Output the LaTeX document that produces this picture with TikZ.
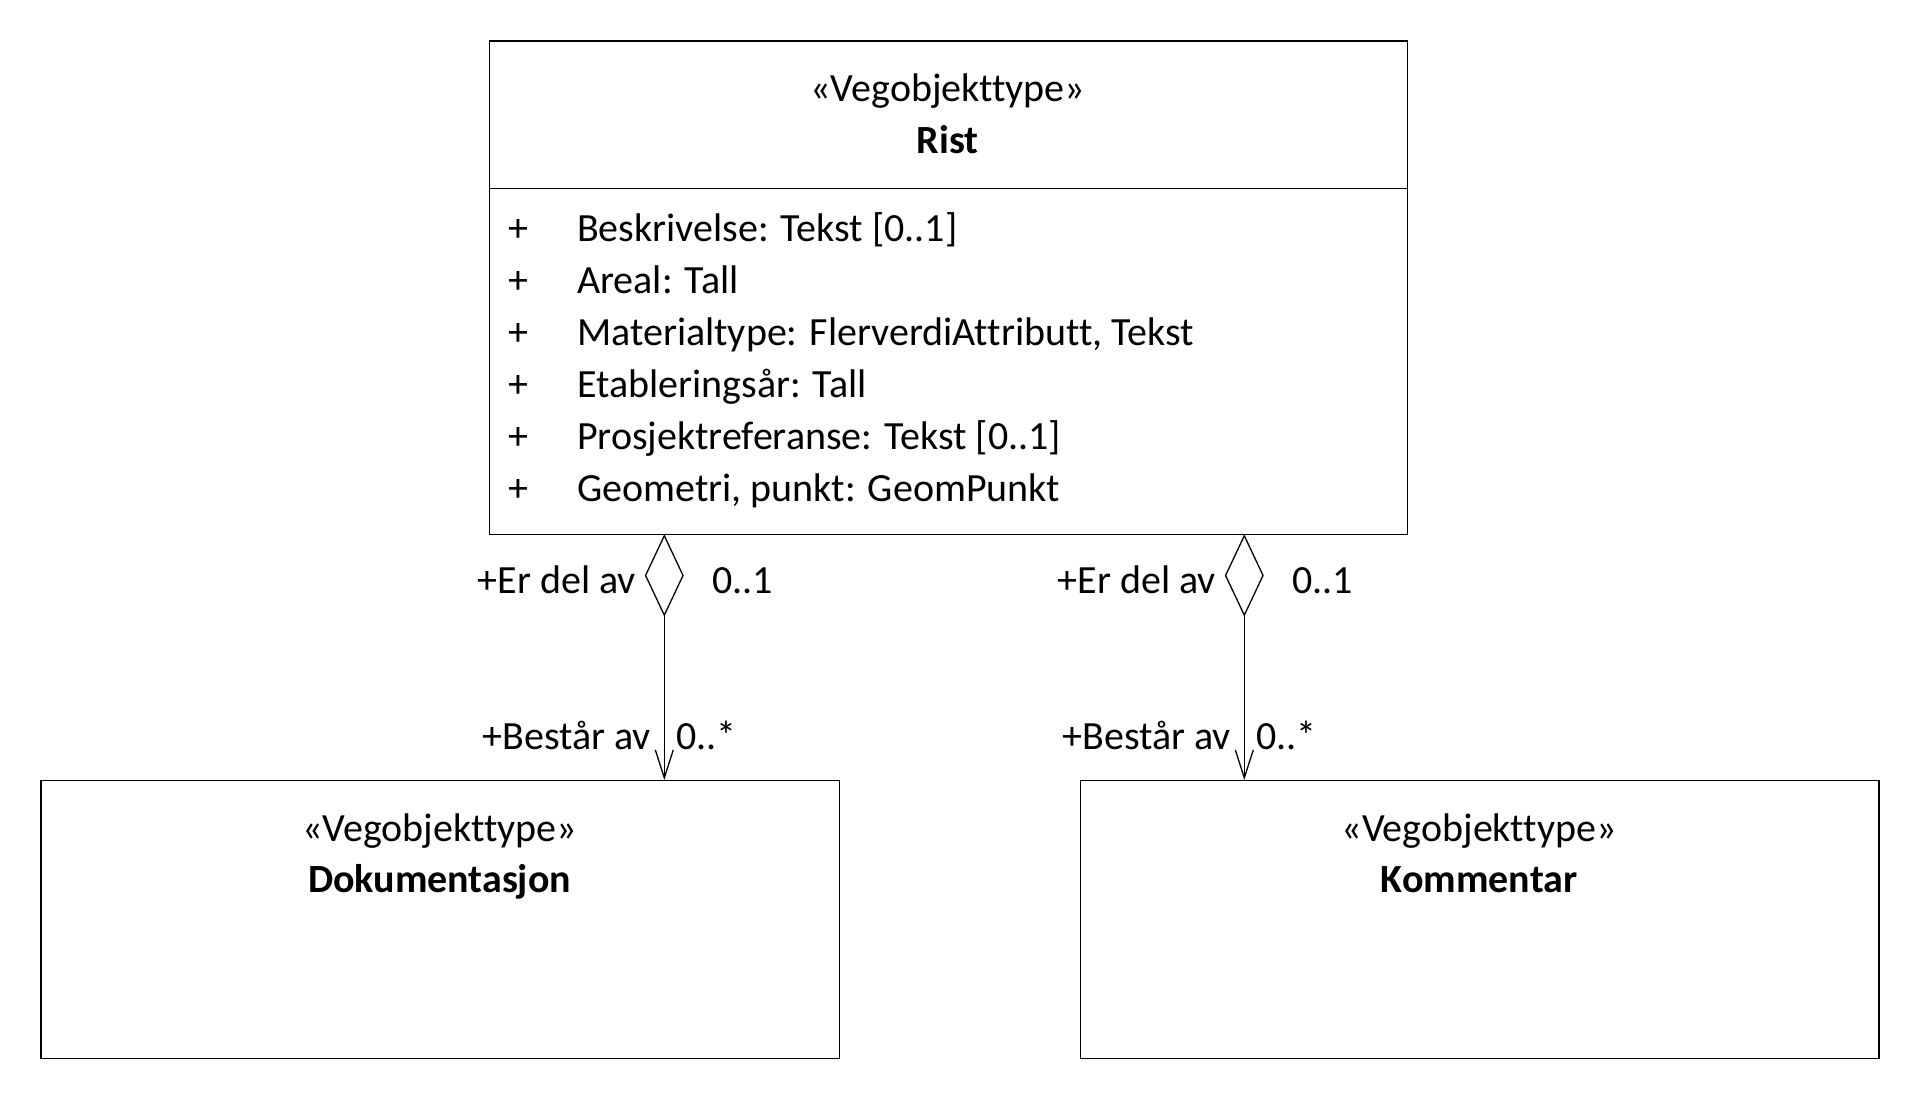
\documentclass[tikz,border=0pt]{standalone}
\usepackage{fontspec}
\setmainfont[Ligatures={NoCommon}]{Carlito}
\usetikzlibrary{shapes.geometric,arrows.meta}
\begin{document}
\begin{tikzpicture}[x=1pt,y=-1pt,
  classbox/.style={draw, line width=1.3pt, inner sep=0pt, anchor=north west},
  txt/.style={inner sep=0pt, font=\fontsize{40}{48}\selectfont},
  btxt/.style={inner sep=0pt, font=\fontsize{40}{48}\selectfont\bfseries},
  diam/.style={draw, diamond, line width=1.3pt, inner sep=0pt, minimum width=38pt, minimum height=80pt, anchor=north, fill=white},
  assoc/.style={line width=1.3pt, -{Straight Barb[length=28pt,width=18pt]}}]
\useasboundingbox (0,0) rectangle (1920,1100);
% main class
\node[classbox, minimum width=918.4pt, minimum height=493.6pt] (rist) at (488.6,40.4) {};
\coordinate (sepy) at (0,188.6);
\draw[line width=1.3pt] (rist.west |- sepy) -- (rist.east |- sepy);
\node[txt, anchor=base] (st1) at (947.8,101.7) {«Vegobjekttype»};
\node[btxt, anchor=base] (n1) at (947.8,153.3) {Rist};
\foreach \t [count=\i from 0] in {Beskrivelse: Tekst [0..1], Areal: Tall, {Materialtype: FlerverdiAttributt, Tekst}, Etableringsår: Tall, Prosjektreferanse: Tekst [0..1], {Geometri, punkt: GeomPunkt}} {
  \node[txt, anchor=base west] (p\i) at (508,241+52.1*\i) {+};
  \node[txt, anchor=base west] (a\i) at (577,241+52.1*\i) {\t};
}
% lower classes
\node[classbox, minimum width=798.4pt, minimum height=278pt] (doc) at (40.4,780) {};
\node[txt, anchor=base] (st2) at (439.6,841.7) {«Vegobjekttype»};
\node[btxt, anchor=base] (n2) at (439.6,892.7) {Dokumentasjon};
\node[classbox, minimum width=798.4pt, minimum height=278pt] (kom) at (1080,780) {};
\node[txt, anchor=base] (st3) at (1479.2,841.7) {«Vegobjekttype»};
\node[btxt, anchor=base] (n3) at (1479.2,892.7) {Kommentar};
% associations
\node[diam] (d1) at (664.3,534.8) {};
\node[diam] (d2) at (1244.3,534.8) {};
\draw[assoc] (d1.south) -- (d1.south |- doc.north);
\draw[assoc] (d2.south) -- (d2.south |- kom.north);
\node[txt, anchor=base east] (l1) at (636,593.3) {+Er del av};
\node[txt, anchor=base west] (m1) at (712,593.3) {0..1};
\node[txt, anchor=base east] (l2) at (651,749) {+Består av};
\node[txt, anchor=base west] (m2) at (676,749) {0..*};
\node[txt, anchor=base east] (l3) at (1216,593.3) {+Er del av};
\node[txt, anchor=base west] (m3) at (1292,593.3) {0..1};
\node[txt, anchor=base east] (l4) at (1231,749) {+Består av};
\node[txt, anchor=base west] (m4) at (1256,749) {0..*};
\end{tikzpicture}
\end{document}
